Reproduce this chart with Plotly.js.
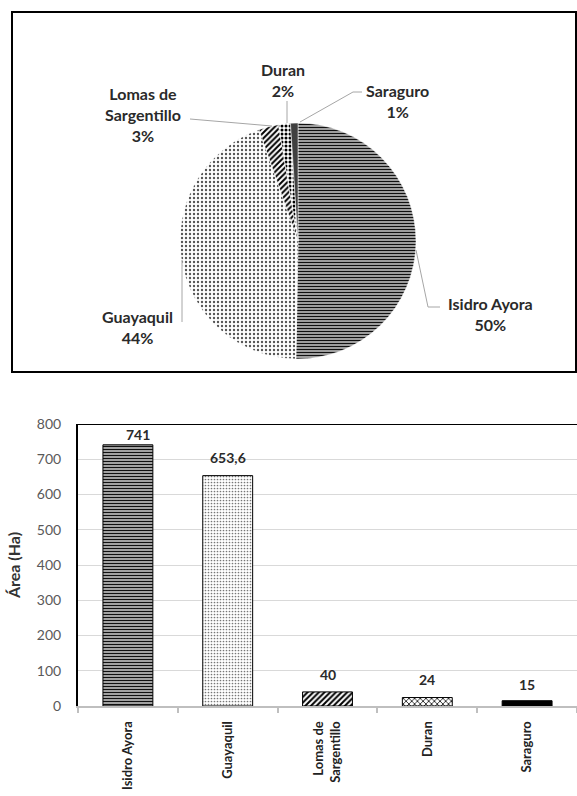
<!DOCTYPE html>
<html>
<head>
<meta charset="utf-8">
<script src="https://cdn.plot.ly/plotly-3.0.1.min.js"></script>
<style>html,body{margin:0;padding:0;background:#fff;}#chart{width:577px;height:796px;}</style>
</head>
<body>
<div id="chart"></div>
<script>
// ---- data ----
const categories = ['Isidro Ayora', 'Guayaquil', 'Lomas de Sargentillo', 'Duran', 'Saraguro'];
const areaHa = [741, 653.6, 40, 24, 15];
const tickLabels = ['Isidro Ayora', 'Guayaquil', 'Lomas de<br>Sargentillo', 'Duran', 'Saraguro'];
const pieLabels = ['Isidro Ayora', 'Guayaquil', 'Lomas de<br>Sargentillo', 'Duran', 'Saraguro'];
const yTicks = [0, 100, 200, 300, 400, 500, 600, 700, 800];

// ---- styles ----
const W = 577, H = 796;
const px = (x) => x / W;
const py = (y) => 1 - y / H;
const FONT = 'Lato, "Liberation Sans", Arial, sans-serif';

const piePattern = {
  shape: ['-', '.', '/', '.', ''],
  fgcolor: ['#111111', '#555555', '#000000', '#000000', '#111111'],
  bgcolor: ['#bcbcbc', '#ffffff', '#ffffff', '#ffffff', '#404040'],
  size: [3, 4, 4, 4, 4],
  solidity: [0.45, 0.28, 0.5, 0.45, 0.3],
  fillmode: 'replace'
};
const barShape = ['-', '.', '/', 'x', ''];
const barFg = ['#101010', '#777777', '#000000', '#000000', '#000000'];
const barBg = ['#bfbfbf', '#ffffff', '#ffffff', '#ffffff', '#000000'];
const barSize = [3, 3, 4, 4, 4];
const barSolid = [0.45, 0.25, 0.5, 0.35, 0.3];

const total = areaHa.reduce((a, b) => a + b, 0);
const pct = areaHa.map(v => Math.round(v / total * 100) + '%');

const pie = {
  type: 'pie',
  labels: categories,
  values: areaHa,
  sort: false,
  direction: 'clockwise',
  rotation: 0,
  textinfo: 'none',
  hoverinfo: 'label+percent',
  showlegend: false,
  domain: {x: [px(180), px(416)], y: [py(359), py(123)]},
  marker: {
    colors: piePattern.bgcolor,
    line: {color: '#ffffff', width: 0.5},
    pattern: piePattern
  }
};

const bars = categories.map((c, i) => {
  const m = {color: barBg[i], line: {color: '#000000', width: 1}};
  if (barShape[i]) {
    m.pattern = {shape: barShape[i], fgcolor: barFg[i], bgcolor: barBg[i],
      size: barSize[i], solidity: barSolid[i], fillmode: 'replace'};
  }
  return {type: 'bar', x: [c], y: [areaHa[i]], xaxis: 'x', yaxis: 'y',
    showlegend: false, marker: m, hoverinfo: 'x+y'};
});

// pie label annotations (positions of label boxes; text from data)
const pieLabelPos = [[490, 314], [137, 327], [143, 114], [283, 80], [397, 101]];
const annotations = pieLabels.map((lab, i) => ({
  xref: 'paper', yref: 'paper',
  x: px(pieLabelPos[i][0]), y: py(pieLabelPos[i][1]),
  xanchor: 'center', yanchor: 'middle',
  text: lab + '<br>' + pct[i],
  showarrow: false,
  align: 'center',
  font: {family: FONT, size: 16, color: '#2a2a2a', weight: 'bold'}
}));

// bar value labels
const valShiftX = [10, 0, 0, 0, 0];
const valShiftY = [0, 8, 7, 8, 6];
areaHa.forEach((v, i) => {
  annotations.push({
    xref: 'x', yref: 'y', x: categories[i], y: v,
    xanchor: 'center', yanchor: 'bottom',
    xshift: valShiftX[i], yshift: valShiftY[i],
    text: String(v).replace('.', ','),
    showarrow: false,
    font: {family: FONT, size: 14, color: '#2a2a2a', weight: 'bold'}
  });
});

const lineStyle = {color: '#a6a6a6', width: 1};
const pathFrom = (pts) => 'M ' + pts.map(p => px(p[0]) + ',' + py(p[1])).join(' L ');
const leaders = [
  [[416, 250], [428, 307], [440, 307]],
  [[182, 260], [182, 322]],
  [[190, 119], [272, 126]],
  [[287, 101], [287, 123]],
  [[362, 92], [353, 92], [300, 122]]
];
const shapes = leaders.map(pts => ({
  type: 'path', xref: 'paper', yref: 'paper', path: pathFrom(pts), line: lineStyle
}));
// pie frame
shapes.push({type: 'rect', xref: 'paper', yref: 'paper',
  x0: px(12), x1: px(576), y0: py(372), y1: py(12),
  line: {color: '#000000', width: 2}, fillcolor: 'rgba(0,0,0,0)'});
// bar chart top border
shapes.push({type: 'line', xref: 'x domain', yref: 'y', x0: 0, x1: 1, y0: 800, y1: 800,
  line: {color: '#000000', width: 2}});

const layout = {
  width: W, height: H,
  margin: {l: 0, r: 0, t: 0, b: 0},
  paper_bgcolor: '#ffffff',
  plot_bgcolor: '#ffffff',
  barmode: 'overlay',
  bargap: 0.5,
  showlegend: false,
  xaxis: {
    domain: [px(78), 1],
    type: 'category',
    range: [-0.5, 4.5],
    tickvals: categories,
    ticktext: tickLabels,
    tickangle: -90,
    tickfont: {family: FONT, size: 13, color: '#222222', weight: 'bold'},
    showline: true, linecolor: '#bfbfbf', linewidth: 2,
    ticks: 'outside', tickson: 'boundaries', ticklen: 5, tickcolor: '#bfbfbf', tickwidth: 2,
    ticklabelstandoff: 8,
    showgrid: false, zeroline: false,
    automargin: false, fixedrange: true
  },
  yaxis: {
    domain: [py(706), py(424)],
    range: [0, 800],
    tickvals: yTicks,
    tickfont: {family: FONT, size: 14, color: '#595959'},
    showline: true, linecolor: '#000000', linewidth: 2,
    ticks: '', ticklabelstandoff: 12,
    showgrid: true, gridcolor: '#d9d9d9', gridwidth: 1,
    zeroline: false,
    title: {text: 'Área (Ha)', font: {family: FONT, size: 16, color: '#333333', weight: 'bold'}, standoff: 12},
    automargin: false, fixedrange: true
  },
  annotations: annotations,
  shapes: shapes
};

Plotly.newPlot('chart', [pie].concat(bars), layout, {displayModeBar: false, staticPlot: true});
</script>
</body>
</html>
